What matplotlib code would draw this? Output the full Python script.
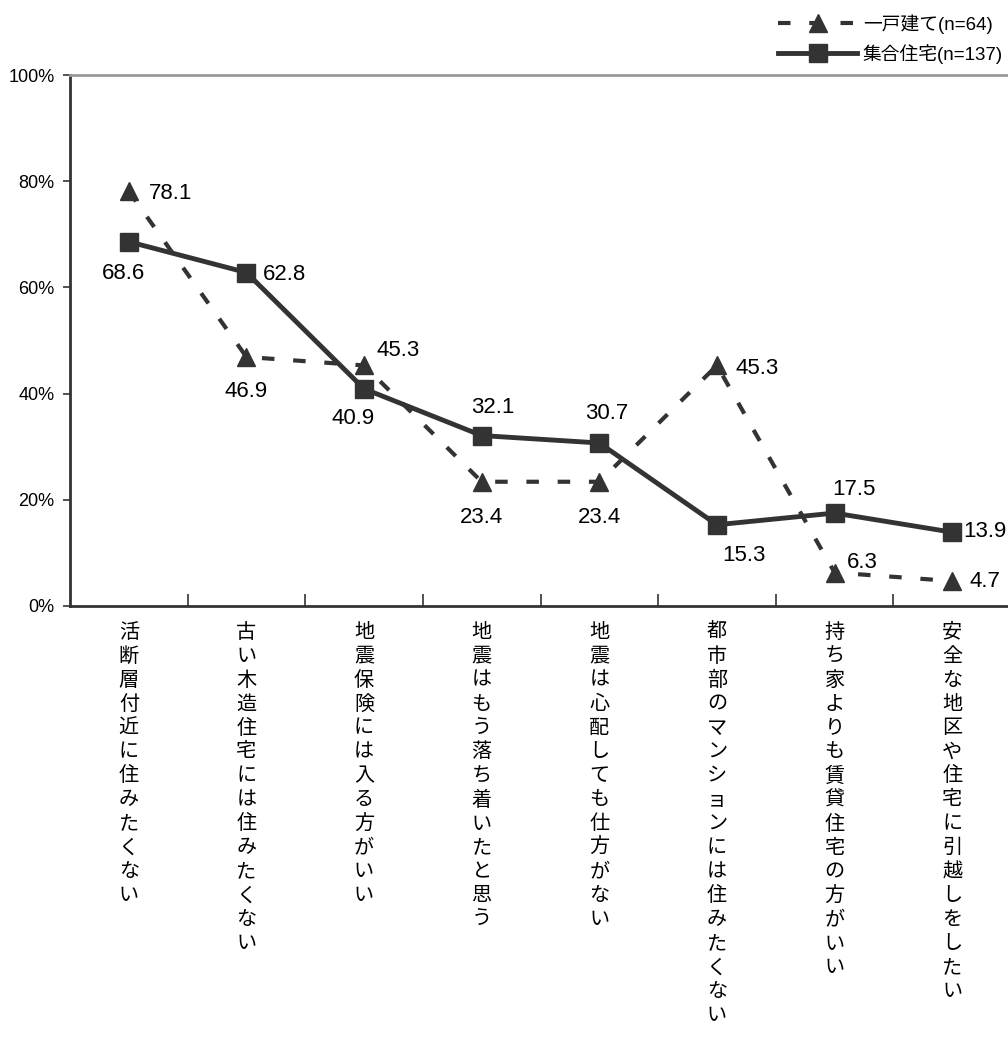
"""一戸建て / 集合住宅 の意識調査 折れ線グラフ."""

import matplotlib

matplotlib.use("Agg")
import matplotlib.pyplot as plt
from matplotlib.ticker import FixedLocator

plt.rcParams["font.family"] = ["Liberation Sans", "Noto Sans CJK JP", "DejaVu Sans"]

CATEGORIES = [
    "活断層付近に住みたくない",
    "古い木造住宅には住みたくない",
    "地震保険には入る方がいい",
    "地震はもう落ち着いたと思う",
    "地震は心配しても仕方がない",
    "都市部のマンションには住みたくない",
    "持ち家よりも賃貸住宅の方がいい",
    "安全な地区や住宅に引越しをしたい",
]
DETACHED_LABEL = "一戸建て(n=64)"
DETACHED = [78.1, 46.9, 45.3, 23.4, 23.4, 45.3, 6.3, 4.7]
APARTMENT_LABEL = "集合住宅(n=137)"
APARTMENT = [68.6, 62.8, 40.9, 32.1, 30.7, 15.3, 17.5, 13.9]
Y_TICKS = [0, 20, 40, 60, 80, 100]

# value label offsets in pixels (dx, dy, ha)
DETACHED_OFFS = [(20, -2, "left"), (0, -35, "center"), (12, 15, "left"),
                 (0, -36, "center"), (0, -36, "center"), (19, -3, "left"),
                 (12, 10, "left"), (17, 0, "left")]
APARTMENT_OFFS = [(-5, -32, "center"), (16, -2, "left"), (-11, -30, "center"),
                  (11, 28, "center"), (7, 29, "center"), (27, -31, "center"),
                  (19, 24, "center"), (11, 1, "left")]

COLOR = "#333333"

fig = plt.figure(figsize=(10.08, 10.37), dpi=100)
ax = fig.add_axes([70 / 1008, 431 / 1037, 941 / 1008, 531 / 1037])

x = list(range(len(CATEGORIES)))
ax.plot(x, DETACHED, color=COLOR, lw=3, dashes=(3, 4.5), marker="^",
        markersize=13, label=DETACHED_LABEL, zorder=3)
ax.plot(x, APARTMENT, color=COLOR, lw=3.5, marker="s", markersize=13,
        label=APARTMENT_LABEL, zorder=4)

for xi, v, (dx, dy, ha) in zip(x, DETACHED, DETACHED_OFFS):
    ax.annotate(f"{v:.1f}", (xi, v), xytext=(dx, dy), textcoords="offset pixels",
                ha=ha, va="center", fontsize=16, color="black")
for xi, v, (dx, dy, ha) in zip(x, APARTMENT, APARTMENT_OFFS):
    ax.annotate(f"{v:.1f}", (xi, v), xytext=(dx, dy), textcoords="offset pixels",
                ha=ha, va="center", fontsize=16, color="black")

ax.set_xlim(-0.5, len(CATEGORIES) - 0.5)
ax.set_ylim(0, 100)
ax.set_yticks(Y_TICKS)
ax.set_yticklabels([f"{t}%" for t in Y_TICKS], fontsize=13)
ax.tick_params(axis="y", direction="out", length=5, width=1.2, color=COLOR, pad=6)

ax.set_xticks(x)
ax.set_xticklabels(["\n".join(c) for c in CATEGORIES], fontsize=14.5,
                   va="top", linespacing=1.33)
ax.tick_params(axis="x", which="major", length=0, pad=12)
ax.xaxis.set_minor_locator(FixedLocator([i + 0.5 for i in range(len(CATEGORIES) - 1)]))
ax.tick_params(axis="x", which="minor", direction="in", length=9, width=1.2, color=COLOR)

ax.spines["right"].set_visible(False)
ax.spines["top"].set_color("#999999")
ax.spines["top"].set_linewidth(2)
ax.spines["left"].set_color(COLOR)
ax.spines["left"].set_linewidth(2)
ax.spines["bottom"].set_color(COLOR)
ax.spines["bottom"].set_linewidth(2)

fig.legend(loc="upper right", bbox_to_anchor=(1.008, 0.999), frameon=False,
           fontsize=13.5, handlelength=4.2, handletextpad=0.3, labelspacing=0.55,
           borderaxespad=0.3)

fig.savefig("out.png", dpi=100)
